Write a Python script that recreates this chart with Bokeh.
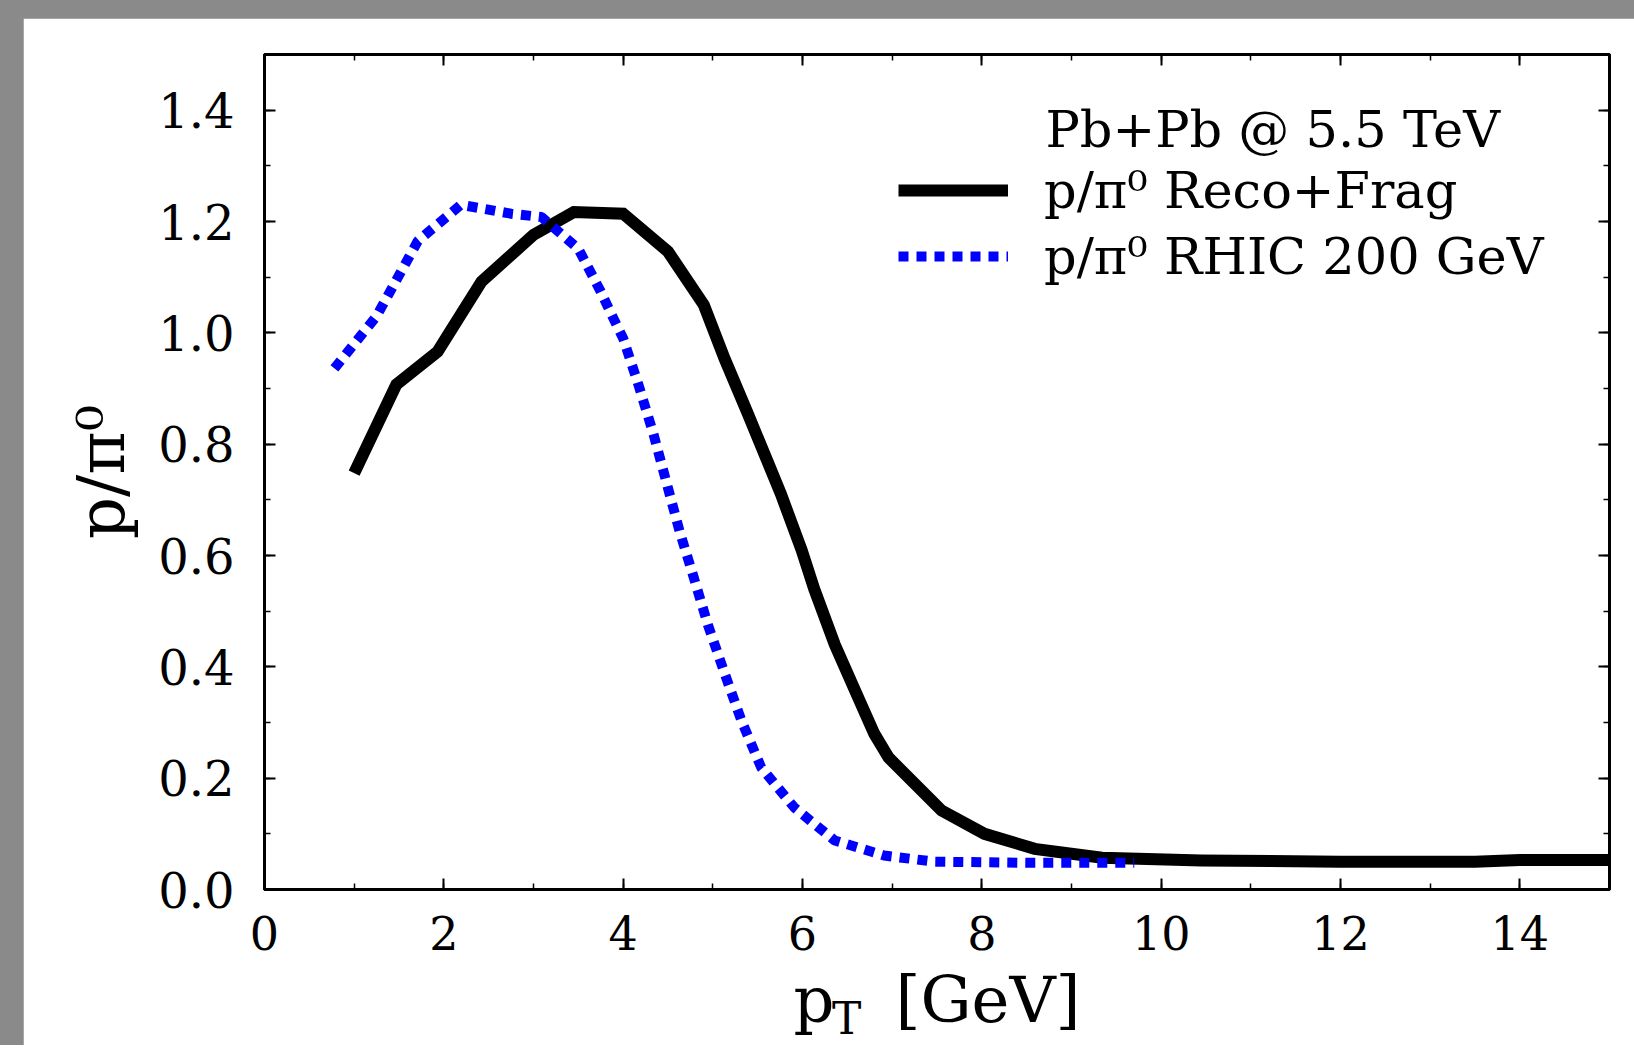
import math
from bokeh.plotting import figure
from bokeh.models import (LinearAxis, SingleIntervalTicker, PrintfTickFormatter, Label,
                          Legend, LegendItem, Range1d, CustomLabelingPolicy)
from bokeh.layouts import column
from bokeh.embed import file_html
from bokeh.resources import INLINE

# ---- data ----
black_x = [1.0, 1.47, 1.93, 2.05, 2.42, 3.0, 3.45, 4.0, 4.5, 4.9, 5.13, 5.39, 5.62, 5.76, 5.99,
           6.13, 6.36, 6.62, 6.8, 6.96, 7.55, 8.03, 8.59, 9.34, 10.45, 12.0, 13.5, 14.0, 15.0]
black_y = [0.748, 0.907, 0.966, 0.997, 1.092, 1.176, 1.217, 1.214, 1.146, 1.05, 0.954, 0.855,
           0.765, 0.71, 0.61, 0.54, 0.44, 0.345, 0.28, 0.237, 0.142, 0.10, 0.073, 0.057,
           0.052, 0.05, 0.05, 0.053, 0.053]

blue_x = [0.78, 1.25, 1.71, 2.19, 2.75, 3.09, 3.5, 3.75, 3.87, 4.0, 4.17, 4.34, 4.48, 4.63,
          4.79, 4.95, 5.13, 5.32, 5.54, 5.91, 6.36, 6.91, 7.47, 8.5, 9.7]
blue_y = [0.936, 1.03, 1.165, 1.23, 1.214, 1.208, 1.151, 1.074, 1.033, 0.99, 0.907, 0.817,
          0.733, 0.643, 0.559, 0.473, 0.389, 0.303, 0.219, 0.147, 0.088, 0.061, 0.05, 0.048,
          0.048]

series_labels = ["p/π⁰ Reco+Frag", "p/π⁰ RHIC 200 GeV"]
header_text = "Pb+Pb @ 5.5 TeV"
x_title_main = "p\u00a0\u00a0\u00a0[GeV]"
x_title_sub = "T"
y_title = "p/π⁰"

FONT = "DejaVu Serif"

p = figure(width=1611, height=1027, output_backend="svg", toolbar_location=None,
           x_range=Range1d(0, 15), y_range=Range1d(0, 1.5),
           min_border_left=241, min_border_right=25, min_border_top=36, min_border_bottom=156,
           margin=(18, 0, 0, 23), border_fill_color="white", background_fill_color="white")
p.xgrid.visible = False
p.ygrid.visible = False
p.outline_line_color = "black"
p.outline_line_width = 3

def style_axis(ax, size="0px", standoff=0):
    ax.axis_line_color = "black"
    ax.axis_line_width = 3
    ax.major_tick_in = 11
    ax.major_tick_out = 0
    ax.minor_tick_in = 6
    ax.minor_tick_out = 0
    ax.major_tick_line_width = 2
    ax.minor_tick_line_width = 1.5
    ax.major_label_text_font = FONT
    ax.major_label_text_color = "black"
    ax.major_label_text_font_size = size
    ax.major_label_standoff = standoff

p.xaxis.ticker = SingleIntervalTicker(interval=2, num_minor_ticks=2)
p.yaxis.ticker = SingleIntervalTicker(interval=0.2, num_minor_ticks=2)
p.yaxis.formatter = PrintfTickFormatter(format="%.1f")
style_axis(p.xaxis[0], "46px", 26)
style_axis(p.yaxis[0], "48px", 30)

p.xaxis.axis_label = x_title_main
p.xaxis.axis_label_text_font = FONT
p.xaxis.axis_label_text_font_style = "normal"
p.xaxis.axis_label_text_font_size = "64px"
p.xaxis.axis_label_text_color = "black"
p.xaxis.axis_label_standoff = 10

# mirror axes (ticks only, no labels)
no_labels = "for (const i of indices) indices.unset(i)"
top = LinearAxis(ticker=SingleIntervalTicker(interval=2, num_minor_ticks=2),
                 major_label_policy=CustomLabelingPolicy(code=no_labels))
right = LinearAxis(ticker=SingleIntervalTicker(interval=0.2, num_minor_ticks=2),
                   major_label_policy=CustomLabelingPolicy(code=no_labels))
style_axis(top)
style_axis(right)
p.add_layout(top, "above")
p.add_layout(right, "right")

r_black = p.line(black_x, black_y, line_color="black", line_width=12, line_join="miter")
r_blue = p.line(blue_x, blue_y, line_color="#0000ff", line_width=10, line_dash="10 8")

common = dict(padding=0, margin=0, spacing=0, glyph_width=110, glyph_height=80,
              label_height=80, label_standoff=36, label_text_font=FONT,
              label_text_font_size="51px", label_text_color="black",
              border_line_alpha=0, background_fill_alpha=0)
leg1 = Legend(items=[LegendItem(label=series_labels[0], renderers=[r_black])],
              location=(634, 659), **common)
leg2 = Legend(items=[LegendItem(label=series_labels[1], renderers=[r_blue])],
              location=(634, 593), **common)
p.add_layout(leg1, "center")
p.add_layout(leg2, "center")

p.add_layout(Label(x=8.71, y=1.366, text=header_text, text_font=FONT,
                   text_font_size="51px", text_baseline="alphabetic", text_color="black"))

# subscript of the x title and the y title live in the left side panel (not clipped)
p.add_layout(Label(x=6.33, y=-0.231, text=x_title_sub, text_font=FONT, text_font_size="44px",
                   text_baseline="alphabetic", text_color="black"), "left")
p.add_layout(Label(x=-1.82, y=0.75, text=y_title, text_font=FONT, text_font_size="66px",
                   text_baseline="middle", text_align="center", angle=math.pi / 2,
                   text_color="black"), "left")

layout = column(p, styles={"background-color": "#8a8a8a"})

open("out.html", "w").write(file_html(layout, INLINE))
